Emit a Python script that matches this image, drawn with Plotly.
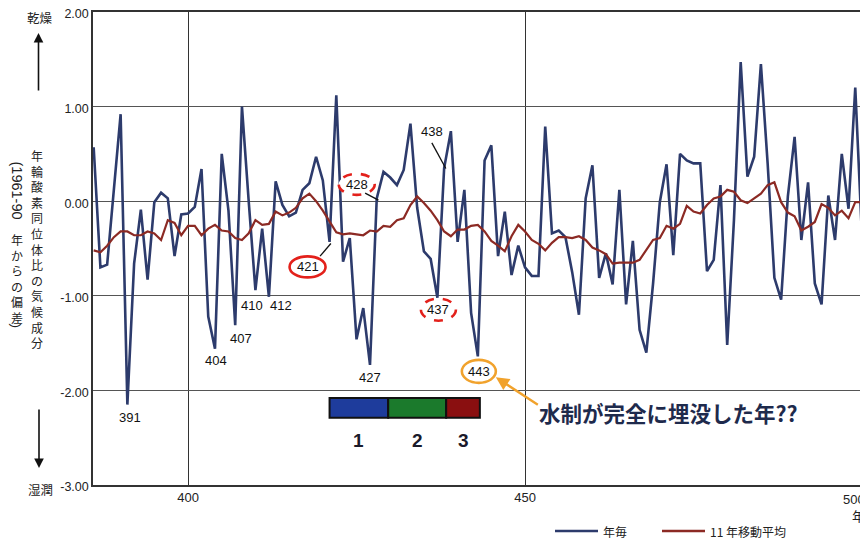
import plotly.graph_objects as go

# ---------------- data ----------------
years = list(range(386, 501))

annual = [
    0.57, -0.70, -0.67, 0.13, 0.92, -2.15, -0.66, -0.09, -0.83, -0.01,   # 386-395
    0.09, 0.03, -0.58, -0.14, -0.13, -0.06, 0.34, -1.22, -1.56, 0.50,    # 396-405
    -0.10, -1.31, 1.00, 0.00, -0.94, -0.29, -1.01, 0.21, -0.04, -0.16,   # 406-415
    -0.12, 0.12, 0.19, 0.47, 0.22, -0.43, 1.12, -0.64, -0.39, -1.46,     # 416-425
    -1.13, -1.73, 0.03, 0.31, 0.25, 0.17, 0.33, 0.82, -0.07, -0.53,      # 426-435
    -0.61, -1.02, 0.35, 0.74, -0.43, 0.12, -1.18, -1.64, 0.43, 0.59,     # 436-445
    -0.58, -0.11, -0.78, -0.47, -0.70, -0.79, -0.79, 0.79, -0.34, -0.31, # 446-455
    -0.38, -0.75, -1.20, 0.03, 0.38, -0.81, -0.55, -0.88, 0.12, -1.09,   # 456-465
    -0.42, -1.36, -1.60, -0.87, -0.01, 0.39, -0.57, 0.50, 0.43, 0.40,    # 466-475
    0.40, -0.74, -0.62, 0.17, -1.52, -0.20, 1.47, 0.26, 0.47, 1.45,      # 476-485
    0.40, -0.81, -1.04, 0.05, 0.68, -0.41, 0.20, -0.87, -1.09, 0.06,     # 486-495
    -0.41, 0.50, -0.08, 1.20, -0.38,                                     # 496-500
]

moving_avg = [
    -0.52, -0.54, -0.47, -0.38, -0.32, -0.32, -0.36, -0.36, -0.32, -0.34,  # 386-395
    -0.41, -0.20, -0.23, -0.36, -0.26, -0.26, -0.36, -0.29, -0.25, -0.31,  # 396-405
    -0.32, -0.39, -0.41, -0.34, -0.20, -0.25, -0.24, -0.11, -0.15, -0.12,  # 406-415
    -0.07, 0.03, 0.08, 0.00, -0.10, -0.22, -0.33, -0.35, -0.34, -0.35,     # 416-425
    -0.36, -0.31, -0.32, -0.26, -0.27, -0.20, -0.18, -0.04, 0.05, -0.02,   # 426-435
    -0.10, -0.20, -0.32, -0.37, -0.30, -0.30, -0.26, -0.25, -0.32, -0.42,  # 436-445
    -0.47, -0.53, -0.37, -0.25, -0.32, -0.41, -0.45, -0.52, -0.44, -0.38,  # 446-455
    -0.38, -0.39, -0.37, -0.41, -0.49, -0.52, -0.56, -0.66, -0.65, -0.65,  # 456-465
    -0.65, -0.62, -0.52, -0.41, -0.39, -0.26, -0.29, -0.24, -0.05, -0.11,  # 466-475
    -0.13, -0.04, 0.03, 0.05, 0.12, 0.10, 0.01, -0.02, 0.03, 0.08,         # 476-485
    0.17, 0.20, -0.01, -0.12, -0.16, -0.31, -0.27, -0.22, -0.03, -0.07,    # 486-495
    -0.15, -0.10, -0.18, -0.01, -0.01,                                     # 496-500
]

series_names = ["年毎", "11 年移動平均"]
y_tick_vals = [2, 1, 0, -1, -2, -3]
y_tick_text = ["2.00", "1.00", "0.00", "-1.00", "-2.00", "-3.00"]
x_tick_vals = [400, 450, 500]
x_tick_text = ["400", "450", "500"]

trough_labels = [391, 404, 407, 410, 412, 427]
circled_years = [421, 428, 437, 443]
pointer_year = 438
period_bounds = [421.0, 429.7, 438.3, 443.3]
period_labels = ["1", "2", "3"]
note_text = "水制が完全に埋没した年??"
y_title_main = "年輪酸素同位体比の気候成分"
y_title_sub_latin = "(1961-90"
y_title_sub_rest = "年からの偏差"
dry_label = "乾燥"
wet_label = "湿潤"
x_unit = "年"

# ---------------- styles ----------------
BLUE = "#2d3b6c"
RED = "#8c2a24"
CIRCLE_RED = "#e3211b"
ORANGE = "#f1a22c"
TXT = "#222222"
FONT = "Liberation Sans, Noto Sans CJK JP, sans-serif"
JFONT = "Noto Sans CJK JP, sans-serif"

val = dict(zip(years, annual))

fig = go.Figure()
fig.add_trace(go.Scatter(x=years, y=annual, mode="lines", name=series_names[0],
                         line=dict(color=BLUE, width=2.6)))
fig.add_trace(go.Scatter(x=years, y=moving_avg, mode="lines", name=series_names[1],
                         line=dict(color=RED, width=2.2)))

shapes = []
annotations = []

# trough year labels (offsets in px from data point)
label_offsets = {391: (3, -13), 404: (1, -12), 407: (6, -13), 410: (-3, -15),
                 412: (12, -9), 427: (0, -13)}
for yr in trough_labels:
    dx, dy = label_offsets[yr]
    annotations.append(dict(x=yr, y=val[yr], text=str(yr), showarrow=False,
                            xshift=dx, yshift=dy, font=dict(size=13, color="#111", family=FONT)))

# circled callouts: (dx, dy, w, h, color, dash)
circle_style = {
    421: (-22, -25, 36, 21, CIRCLE_RED, "solid"),
    428: (-20, 14, 36, 21, CIRCLE_RED, "dash"),
    437: (1, -12, 35, 22, CIRCLE_RED, "dash"),
    443: (1, -15, 34, 23, ORANGE, "solid"),
}
for yr in circled_years:
    dx, dy, w, h, col, dash = circle_style[yr]
    shapes.append(dict(type="circle", xref="x", yref="y",
                       xsizemode="pixel", ysizemode="pixel",
                       xanchor=yr, yanchor=val[yr],
                       x0=dx - w / 2, x1=dx + w / 2, y0=dy - h / 2, y1=dy + h / 2,
                       line=dict(color=col, width=2.6, dash=dash),
                       fillcolor="white", layer="above"))
    annotations.append(dict(x=yr, y=val[yr], text=str(yr), showarrow=False,
                            xshift=dx, yshift=dy,
                            font=dict(size=13, color="#111", family=FONT)))

# pointer lines (px offsets from data point)
pointers = {421: (-9.5, -14.3, 1.3, -1.6), 428: (-11.6, 5.2, 1.7, -1.8),
            438: (-12.3, 25.2, 1.7, -0.4)}
for yr, (x0, y0, x1, y1) in pointers.items():
    shapes.append(dict(type="line", xref="x", yref="y",
                       xsizemode="pixel", ysizemode="pixel",
                       xanchor=yr, yanchor=val[yr], x0=x0, y0=y0, x1=x1, y1=y1,
                       line=dict(color="#111", width=1.3), layer="above"))
annotations.append(dict(x=pointer_year, y=val[pointer_year], text=str(pointer_year),
                        showarrow=False, xshift=-12.3, yshift=37,
                        font=dict(size=13, color="#111", family=FONT)))

# orange arrow from note to the 443 circle
annotations.append(dict(x=443, y=val[443], xshift=18, yshift=-21, text="",
                        showarrow=True, ax=43.5, ay=28.3, arrowhead=2, arrowsize=1.1,
                        arrowwidth=2.4, arrowcolor=ORANGE))
annotations.append(dict(x=471.3, y=-2.23, text=note_text, showarrow=False,
                        xanchor="center", yanchor="middle",
                        font=dict(size=21.5, color="#1e2a4c", family=JFONT, weight="bold")))

# period bar 1-2-3
period_colors = ["#1e3c9c", "#1b7a2c", "#8a0f10"]
for i in range(3):
    shapes.append(dict(type="rect", xref="x", yref="y",
                       x0=period_bounds[i], x1=period_bounds[i + 1], y0=-2.29, y1=-2.08,
                       fillcolor=period_colors[i], line=dict(color="#111", width=2),
                       layer="above"))
    annotations.append(dict(x=(period_bounds[i] + period_bounds[i + 1]) / 2, y=-2.53,
                            text=period_labels[i], showarrow=False,
                            font=dict(size=19, color="#1a1a2a", family=FONT, weight="bold")))

# ---------------- layout geometry (window px; page body adds an 8px offset) ----------------
OFF = 8
L, PW, T, PH = 93, 769, 12, 473
B = T + PH
def px(xp):
    return (xp - L) / PW
def py(yp):
    return (B - yp) / PH

def side_text(xp, yp, text, size, family=JFONT, angle=0, xanchor="center",
              yanchor="middle", color=TXT):
    annotations.append(dict(xref="paper", yref="paper", x=px(xp), y=py(yp), text=text,
                            xanchor=xanchor, yanchor=yanchor, textangle=angle,
                            showarrow=False,
                            font=dict(size=size, color=color, family=family)))

side_text(40, 17, dry_label, 12.5)
side_text(40, 490, wet_label, 12.5)
# arrows
annotations.append(dict(xref="paper", yref="paper", x=px(38.5), y=py(33), text="",
                        showarrow=True, ax=0, ay=59, arrowhead=2, arrowsize=1.2,
                        arrowwidth=1.6, arrowcolor="#111"))
annotations.append(dict(xref="paper", yref="paper", x=px(39), y=py(468), text="",
                        showarrow=True, ax=0, ay=-60, arrowhead=2, arrowsize=1.2,
                        arrowwidth=1.6, arrowcolor="#111"))
# right column: main title, stacked characters (line height 1.3em = 15.6px)
side_text(37, 145, "<br>".join(y_title_main), 12, yanchor="top")
# left column: rotated latin part + stacked chars + rotated paren
LC = 16.5
side_text(LC, 190, y_title_sub_latin, 14.5, family=FONT, angle=90)
side_text(LC, 229, "<br>".join(y_title_sub_rest), 12, yanchor="top")
side_text(LC, 326, ")", 13.5, family=FONT, angle=90)
# x unit and the edge tick label (kept inside the page)
side_text(867, 500, x_tick_text[-1], 13, family=FONT, xanchor="right")
side_text(867, 515, x_unit, 13, xanchor="right")

# ---------------- manual legend ----------------
leg_y = py(531)
for (x0p, x1p, xt, name, col) in [(555, 598, 601, series_names[0], BLUE),
                                  (662, 705, 708, series_names[1], RED)]:
    shapes.append(dict(type="line", xref="paper", yref="paper", x0=px(x0p), x1=px(x1p),
                       y0=leg_y, y1=leg_y, line=dict(color=col, width=2.6)))
    annotations.append(dict(xref="paper", yref="paper", x=px(xt), y=leg_y, text=name,
                            xanchor="left", yanchor="middle", showarrow=False,
                            font=dict(size=12, color=TXT, family=JFONT)))

W, H = 868 - OFF, 544 - OFF
fig.update_layout(
    width=W, height=H,
    margin=dict(l=L - OFF, r=W - (L - OFF) - PW, t=T - OFF, b=H - (T - OFF) - PH,
                autoexpand=False),
    paper_bgcolor="white", plot_bgcolor="white",
    showlegend=False,
    font=dict(family=FONT, size=13, color=TXT),
    shapes=shapes, annotations=annotations,
    xaxis=dict(range=[385.9, 500], tickmode="array", tickvals=x_tick_vals,
               ticktext=x_tick_text[:-1] + [""], showgrid=True, gridcolor="#333",
               gridwidth=1.2, showline=True, linecolor="#333", linewidth=1.5, mirror=True,
               zeroline=False, ticks="", automargin=False, ticklabeloverflow="allow",
               tickfont=dict(size=13, color=TXT)),
    yaxis=dict(range=[-3, 2], tickmode="array", tickvals=y_tick_vals,
               ticktext=y_tick_text, showgrid=True, gridcolor="#555", gridwidth=1.2,
               showline=True, linecolor="#333", linewidth=1.5, mirror=True,
               zeroline=False, ticks="", automargin=False, ticklabeloverflow="allow",
               ticklabelshift=2, tickfont=dict(size=12.5, color=TXT)),
)

fig.write_html("out.html")
